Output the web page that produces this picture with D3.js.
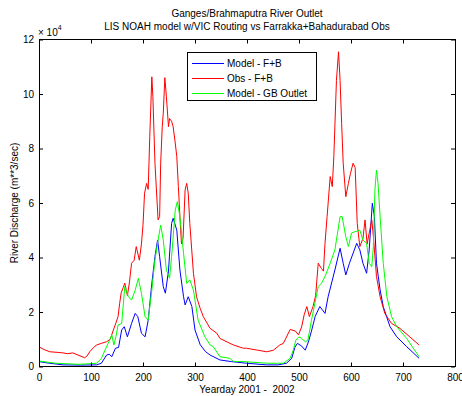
<!DOCTYPE html>
<html>
<head>
<meta charset="utf-8">
<script src="https://cdn.jsdelivr.net/npm/d3@7"></script>
<style>
  body { margin: 0; background: #fff; }
  svg { display: block; font-family: "Liberation Sans", Arial, sans-serif; }
</style>
</head>
<body>
<svg id="chart" width="462" height="396"></svg>
<script>
// discharge values in units of 10^4 m**3/sec
const modelFBDays = [0, 20, 46, 80, 111, 120, 130, 135, 140, 147, 153, 159, 164, 170, 178, 185, 190, 197, 204, 210, 217, 223, 228, 232, 239, 243, 249, 255, 258, 265, 271, 278, 281, 287, 294, 300, 310, 320, 329, 348, 370, 399, 438, 460, 476, 486, 492, 497, 505, 512, 518, 524, 531, 540, 550, 556, 569, 579, 585, 590, 597, 611, 617, 623, 630, 635, 641, 645, 649, 656, 662, 675, 688, 707, 731];
const modelFBValues = [0.18, 0.12, 0.06, 0.05, 0.06, 0.12, 0.42, 0.45, 0.36, 0.67, 0.7, 1.34, 1.46, 1.09, 1.58, 1.95, 1.83, 1.22, 1.09, 1.7, 3.05, 4.03, 4.64, 4.03, 2.93, 2.69, 3.5, 5.25, 5.44, 5.0, 3.54, 2.56, 2.26, 2.56, 2.2, 1.34, 0.8, 0.55, 0.42, 0.24, 0.18, 0.12, 0.06, 0.06, 0.12, 0.3, 0.7, 0.85, 0.75, 0.6, 0.9, 1.3, 1.83, 2.2, 1.95, 2.56, 3.54, 4.34, 3.79, 3.36, 3.79, 4.52, 4.28, 3.79, 3.42, 4.28, 5.99, 5.5, 3.79, 2.81, 2.2, 1.46, 1.09, 0.73, 0.3];

const obsFBDays = [0, 10, 21, 35, 46, 55, 65, 75, 88, 92, 98, 105, 111, 120, 130, 137, 143, 148, 152, 155, 158, 162, 165, 170, 174, 178, 183, 187, 193, 197, 200, 203, 207, 210, 213, 217, 219, 223, 229, 232, 234, 237, 239, 242, 245, 249, 251, 255, 258, 262, 265, 268, 271, 274, 277, 281, 284, 287, 290, 297, 303, 310, 316, 329, 342, 348, 367, 374, 393, 399, 420, 438, 451, 463, 470, 483, 493, 499, 505, 510, 515, 520, 527, 532, 537, 543, 547, 550, 554, 560, 564, 567, 572, 576, 579, 582, 585, 590, 595, 599, 604, 608, 612, 617, 623, 627, 631, 636, 640, 643, 647, 649, 656, 665, 678, 694, 713, 731];
const obsFBValues = [0.72, 0.62, 0.54, 0.52, 0.5, 0.47, 0.5, 0.42, 0.32, 0.38, 0.55, 0.7, 0.79, 0.85, 0.91, 1.0, 1.34, 1.6, 1.83, 2.3, 2.7, 2.9, 3.06, 2.6, 3.1, 3.79, 3.9, 4.4, 3.9, 4.5, 5.2, 6.36, 6.72, 6.5, 8.43, 10.63, 9.9, 7.46, 5.38, 5.5, 7.46, 8.8, 9.29, 10.6, 9.9, 8.8, 9.1, 9.0, 8.8, 8.2, 7.7, 6.6, 5.5, 4.5, 4.7, 6.48, 6.72, 6.36, 5.25, 3.42, 2.56, 2.13, 1.83, 1.4, 1.22, 1.03, 0.85, 0.79, 0.67, 0.67, 0.6, 0.54, 0.6, 0.79, 0.85, 1.36, 1.3, 1.16, 1.45, 1.9, 2.2, 1.83, 2.2, 2.6, 3.79, 3.6, 3.5, 4.52, 5.5, 6.97, 6.6, 7.7, 10.5, 11.55, 10.5, 8.92, 7.46, 6.23, 6.72, 7.09, 7.46, 7.3, 5.25, 4.4, 4.7, 5.38, 4.5, 5.0, 5.38, 4.77, 3.8, 3.3, 2.56, 1.95, 1.58, 1.4, 1.09, 0.79];

const modelGBDays = [0, 32, 77, 111, 120, 127, 133, 140, 144, 148, 152, 159, 165, 172, 178, 185, 191, 197, 204, 210, 217, 223, 229, 234, 239, 245, 251, 255, 262, 266, 271, 278, 284, 290, 297, 306, 319, 329, 335, 348, 367, 374, 393, 438, 470, 483, 489, 494, 500, 505, 512, 517, 524, 537, 543, 550, 560, 569, 579, 583, 590, 595, 601, 608, 617, 623, 630, 635, 640, 643, 646, 649, 652, 656, 662, 669, 678, 688, 707, 731];
const modelGBValues = [0.2, 0.12, 0.08, 0.12, 0.3, 0.6, 0.85, 1.16, 0.79, 1.1, 1.52, 1.58, 2.93, 2.56, 2.44, 2.8, 3.24, 2.69, 1.83, 1.7, 2.8, 3.91, 4.64, 5.19, 4.64, 3.54, 3.24, 4.03, 5.74, 6.05, 5.5, 4.15, 3.05, 3.18, 2.8, 1.7, 1.09, 0.79, 0.73, 0.36, 0.3, 0.18, 0.18, 0.12, 0.12, 0.3, 0.6, 0.97, 1.09, 1.03, 0.91, 0.95, 1.7, 2.93, 3.05, 3.3, 3.79, 4.28, 5.5, 5.5, 4.76, 4.4, 4.9, 4.95, 5.0, 4.64, 4.52, 3.79, 3.66, 4.4, 6.48, 7.21, 6.72, 5.5, 3.79, 2.56, 1.83, 1.46, 1.03, 0.36];

const seriesNames = ['Model - F+B', 'Obs - F+B', 'Model - GB Outlet'];
const seriesColors = ['#0000ff', '#ff0000', '#00ff00'];
const xTicks = [0, 100, 200, 300, 400, 500, 600, 700, 800];
const yTicks = [0, 2, 4, 6, 8, 10, 12];

const series = [
  { days: modelFBDays, values: modelFBValues },
  { days: obsFBDays, values: obsFBValues },
  { days: modelGBDays, values: modelGBValues }
];

const plotLeft = 39, plotRight = 455, plotTop = 39.5, plotBottom = 366.5;

const svg = d3.select('#chart');

const x = d3.scaleLinear().domain([0, 800]).range([plotLeft, plotRight]);
const y = d3.scaleLinear().domain([0, 12]).range([plotBottom, plotTop]);

// data lines
const line = d3.line()
  .x(d => x(d[0]))
  .y(d => y(d[1]));

svg.append('g')
  .selectAll('path')
  .data(series)
  .join('path')
    .attr('d', s => line(s.days.map((d, i) => [d, s.values[i]])))
    .attr('fill', 'none')
    .attr('stroke', (s, i) => seriesColors[i])
    .attr('stroke-width', 1)
    .attr('stroke-linejoin', 'round');

// axes, ticks pointing inward like matlab
const axisFont = g => g.selectAll('text')
  .style('font-size', '10px')
  .style('font-family', '"Liberation Sans", Arial, sans-serif')
  .attr('fill', '#000');

svg.append('g')
    .attr('transform', `translate(0,${plotBottom})`)
    .call(d3.axisBottom(x).tickValues(xTicks).tickSizeInner(-4).tickSizeOuter(0).tickPadding(7))
    .call(g => g.select('.domain').remove())
    .call(axisFont);

svg.append('g')
    .attr('transform', `translate(0,${plotTop})`)
    .call(d3.axisTop(x).tickValues(xTicks).tickSizeInner(-4).tickSizeOuter(0).tickFormat(''))
    .call(g => g.select('.domain').remove());

svg.append('g')
    .attr('transform', `translate(${plotLeft},0)`)
    .call(d3.axisLeft(y).tickValues(yTicks).tickSizeInner(-4).tickSizeOuter(0).tickPadding(5))
    .call(g => g.select('.domain').remove())
    .call(axisFont);

svg.append('g')
    .attr('transform', `translate(${plotRight},0)`)
    .call(d3.axisRight(y).tickValues(yTicks).tickSizeInner(-4).tickSizeOuter(0).tickFormat(''))
    .call(g => g.select('.domain').remove());

svg.append('rect')
  .attr('x', plotLeft + 0.5)
  .attr('y', plotTop)
  .attr('width', plotRight - plotLeft)
  .attr('height', plotBottom - plotTop)
  .attr('fill', 'none')
  .attr('stroke', '#000')
  .attr('stroke-width', 1);

// exponent label
const expo = svg.append('text')
  .attr('x', 38)
  .attr('y', 36)
  .style('font-size', '10px');
expo.append('tspan').text('\u00d7 10');
expo.append('tspan').attr('dy', -6).style('font-size', '7px').text('4');

// titles
svg.append('text')
  .attr('x', (plotLeft + plotRight) / 2)
  .attr('y', 17)
  .attr('text-anchor', 'middle')
  .style('font-size', '10px')
  .text('Ganges/Brahmaputra River Outlet');

svg.append('text')
  .attr('x', (plotLeft + plotRight) / 2)
  .attr('y', 30)
  .attr('text-anchor', 'middle')
  .style('font-size', '10px')
  .text('LIS NOAH model w/VIC Routing vs Farrakka+Bahadurabad Obs');

svg.append('text')
  .attr('x', (plotLeft + plotRight) / 2)
  .attr('y', 393)
  .attr('text-anchor', 'middle')
  .style('font-size', '10px')
  .attr('xml:space', 'preserve')
  .text('Yearday 2001 -  2002');

svg.append('text')
  .attr('transform', `translate(18,${(plotTop + plotBottom) / 2}) rotate(-90)`)
  .attr('text-anchor', 'middle')
  .style('font-size', '10px')
  .text('River Discharge (m**3/sec)');

// legend
const legend = svg.append('g');
legend.append('rect')
  .attr('x', 187.5)
  .attr('y', 52.5)
  .attr('width', 129)
  .attr('height', 48)
  .attr('fill', '#fff')
  .attr('stroke', '#000');

const rows = legend.selectAll('g.row')
  .data(seriesNames)
  .join('g')
    .attr('class', 'row')
    .attr('transform', (d, i) => `translate(0,${63 + i * 15})`);

rows.append('line')
  .attr('x1', 192)
  .attr('x2', 224)
  .attr('y1', 0.5)
  .attr('y2', 0.5)
  .attr('stroke', (d, i) => seriesColors[i])
  .attr('stroke-width', 1);

rows.append('text')
  .attr('x', 227)
  .attr('y', 4)
  .style('font-size', '10px')
  .text(d => d);
</script>
</body>
</html>
